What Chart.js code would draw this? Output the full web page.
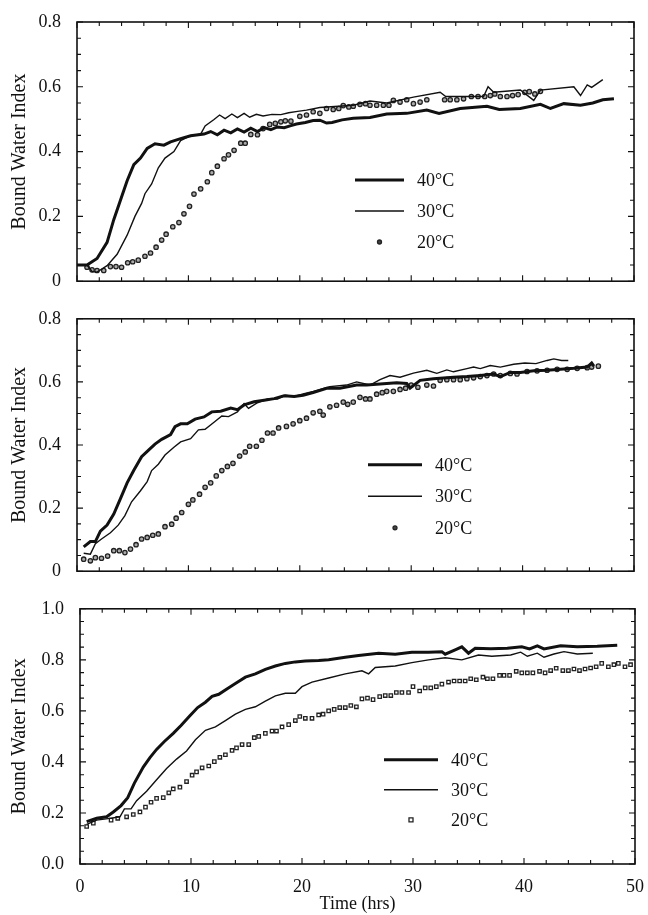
<!DOCTYPE html>
<html lang="en">
<head>
  <meta charset="UTF-8">
  <title>Bound Water Index vs Time</title>
  <script src="https://cdn.jsdelivr.net/npm/chart.js"></script>
  <style>
    body { margin: 0; background: #fff; }
    #wrap { position: relative; width: 648px; height: 915px; }
    #wrap canvas { position: absolute; left: 0; }
  </style>
</head>
<body>
  <div id="wrap">
    <canvas id="panel1" width="648" height="300" style="top:0"></canvas>
    <canvas id="panel2" width="648" height="290" style="top:300px"></canvas>
    <canvas id="panel3" width="648" height="325" style="top:590px"></canvas>
  </div>

  <script>
    // legend labels
    const tempLabels = ['40°C', '30°C', '20°C'];

    // ---- panel 1 (top) ----
    const p1Hours40 = [0, 0.9, 1.8, 2.7, 3.3, 3.9, 4.5, 5.1, 5.7, 6.3, 7.0, 7.8, 8.4, 9.3, 10.2, 11.4, 12.0, 12.6, 13.2, 13.8, 14.4, 15.0, 15.6, 16.2, 16.8, 17.4, 18.0, 18.6, 19.2, 19.7, 20.5, 21.2, 21.8, 22.4, 22.9, 23.8, 24.8, 26.3, 27.8, 29.6, 31.4, 32.5, 34.4, 36.8, 37.9, 39.8, 41.6, 42.5, 43.7, 45.2, 46.3, 47.2, 48.2];
    const p1Bwi40   = [0.05, 0.05, 0.07, 0.12, 0.19, 0.25, 0.31, 0.36, 0.38, 0.41, 0.424, 0.42, 0.43, 0.44, 0.449, 0.454, 0.462, 0.452, 0.466, 0.458, 0.47, 0.46, 0.472, 0.462, 0.474, 0.468, 0.476, 0.474, 0.48, 0.485, 0.49, 0.496, 0.497, 0.488, 0.49, 0.498, 0.503, 0.505, 0.516, 0.518, 0.528, 0.518, 0.533, 0.54, 0.53, 0.533, 0.546, 0.533, 0.548, 0.543, 0.55, 0.56, 0.563];

    const p1Hours30 = [0, 0.9, 1.35, 1.8, 2.7, 3.6, 4.5, 5.2, 5.8, 6.1, 6.7, 7.3, 7.9, 8.7, 9.3, 10.2, 11.1, 11.5, 12.3, 12.8, 13.3, 13.9, 14.4, 15.0, 15.5, 16.1, 16.7, 17.5, 18.3, 19.0, 19.8, 20.6, 21.8, 24.8, 26.3, 27.8, 30.2, 32.6, 33.1, 36.5, 36.9, 37.4, 39.8, 41.0, 41.6, 44.6, 45.2, 45.8, 46.2, 47.2];
    const p1Bwi30   = [0.05, 0.05, 0.03, 0.028, 0.048, 0.083, 0.142, 0.2, 0.24, 0.27, 0.30, 0.35, 0.38, 0.40, 0.434, 0.449, 0.454, 0.479, 0.499, 0.513, 0.502, 0.516, 0.505, 0.518, 0.506, 0.515, 0.51, 0.515, 0.514, 0.52, 0.524, 0.528, 0.536, 0.543, 0.556, 0.55, 0.568, 0.583, 0.57, 0.57, 0.6, 0.583, 0.59, 0.558, 0.59, 0.6, 0.573, 0.606, 0.598, 0.622];

    const p1Hours20 = [0.9, 1.35, 1.8, 2.4, 3.0, 3.5, 4.0, 4.55, 5.0, 5.5, 6.1, 6.6, 7.1, 7.6, 8.0, 8.6, 9.15, 9.6, 10.1, 10.5, 11.1, 11.7, 12.1, 12.6, 13.2, 13.6, 14.1, 14.7, 15.1, 15.6, 16.2, 16.7, 17.3, 17.8, 18.3, 18.7, 19.2, 20.0, 20.6, 21.2, 21.8, 22.4, 23.0, 23.5, 23.9, 24.4, 24.8, 25.4, 25.9, 26.3, 26.9, 27.5, 28.0, 28.4, 29.0, 29.6, 30.2, 30.8, 31.4, 33.0, 33.5, 34.1, 34.7, 35.4, 36.0, 36.6, 37.1, 37.5, 38.0, 38.6, 39.1, 39.6, 40.2, 40.6, 41.1, 41.6];
    const p1Bwi20   = [0.043, 0.035, 0.033, 0.033, 0.045, 0.045, 0.043, 0.057, 0.06, 0.065, 0.077, 0.087, 0.105, 0.127, 0.145, 0.168, 0.181, 0.208, 0.231, 0.269, 0.285, 0.307, 0.335, 0.355, 0.378, 0.39, 0.404, 0.426, 0.426, 0.453, 0.452, 0.471, 0.484, 0.487, 0.492, 0.495, 0.494, 0.509, 0.513, 0.523, 0.518, 0.533, 0.53, 0.533, 0.542, 0.538, 0.54, 0.546, 0.548, 0.543, 0.543, 0.543, 0.543, 0.558, 0.553, 0.56, 0.548, 0.553, 0.56, 0.56, 0.56, 0.56, 0.563, 0.57, 0.57, 0.57, 0.573, 0.578, 0.57, 0.57, 0.573, 0.576, 0.583, 0.585, 0.578, 0.586];

    // ---- panel 2 (middle) ----
    const p2Hours40 = [0.6, 1.2, 1.65, 2.1, 2.7, 3.3, 3.9, 4.5, 5.1, 5.8, 6.4, 7.0, 7.6, 8.4, 8.8, 9.3, 9.9, 10.6, 11.4, 12.1, 12.9, 13.8, 14.4, 15.0, 15.9, 16.8, 17.7, 18.6, 19.5, 20.3, 21.2, 22.4, 23.6, 25.1, 26.0, 27.2, 28.7, 29.6, 29.9, 30.8, 32.0, 33.8, 35.0, 36.2, 37.4, 38.0, 38.9, 39.8, 41.0, 42.2, 43.4, 44.6, 45.8, 46.2, 46.4];
    const p2Bwi40   = [0.077, 0.094, 0.094, 0.127, 0.146, 0.181, 0.23, 0.28, 0.32, 0.363, 0.383, 0.403, 0.418, 0.433, 0.458, 0.467, 0.467, 0.482, 0.489, 0.505, 0.507, 0.517, 0.512, 0.527, 0.537, 0.542, 0.547, 0.556, 0.554, 0.558, 0.566, 0.58, 0.58, 0.59, 0.59, 0.593, 0.597, 0.595, 0.58, 0.605, 0.61, 0.615, 0.617, 0.62, 0.625, 0.617, 0.63, 0.63, 0.635, 0.637, 0.64, 0.643, 0.647, 0.66, 0.65];

    const p2Hours30 = [0.6, 1.2, 1.65, 2.2, 3.0, 3.7, 4.3, 4.9, 5.7, 6.3, 6.7, 7.3, 7.9, 8.7, 9.3, 10.2, 10.9, 11.5, 12.3, 13.0, 13.6, 14.4, 15.0, 15.4, 16.2, 17.1, 18.0, 18.7, 19.5, 20.3, 21.2, 22.7, 24.2, 25.1, 26.3, 27.2, 28.1, 29.0, 30.2, 31.4, 32.3, 33.2, 33.8, 35.0, 35.6, 36.2, 37.1, 38.0, 39.2, 40.2, 41.2, 42.2, 42.8, 43.5, 44.1];
    const p2Bwi30   = [0.057, 0.054, 0.087, 0.102, 0.122, 0.146, 0.176, 0.22, 0.255, 0.284, 0.319, 0.339, 0.368, 0.393, 0.41, 0.42, 0.448, 0.45, 0.472, 0.492, 0.49, 0.505, 0.531, 0.516, 0.534, 0.546, 0.546, 0.558, 0.554, 0.562, 0.57, 0.585, 0.59, 0.6, 0.59, 0.607, 0.62, 0.615, 0.628, 0.637, 0.627, 0.638, 0.632, 0.642, 0.647, 0.642, 0.652, 0.647, 0.656, 0.66, 0.658, 0.668, 0.673, 0.668, 0.668];

    const p2Hours20 = [0.6, 1.2, 1.65, 2.2, 2.75, 3.3, 3.8, 4.3, 4.8, 5.3, 5.8, 6.3, 6.8, 7.3, 7.9, 8.5, 8.9, 9.4, 10.0, 10.4, 11.0, 11.5, 12.0, 12.5, 13.0, 13.5, 14.0, 14.6, 15.1, 15.5, 16.1, 16.6, 17.1, 17.6, 18.1, 18.8, 19.4, 20.0, 20.6, 21.2, 21.8, 22.1, 22.7, 23.3, 23.9, 24.3, 24.8, 25.4, 25.9, 26.3, 26.9, 27.4, 27.8, 28.4, 29.0, 29.5, 30.0, 30.6, 31.4, 32.0, 32.6, 33.2, 33.8, 34.4, 35.0, 35.6, 36.2, 36.8, 37.4, 38.0, 38.9, 39.5, 40.4, 41.3, 42.2, 43.1, 44.0, 44.9, 45.8, 46.2, 46.8];
    const p2Bwi20   = [0.038, 0.033, 0.043, 0.041, 0.048, 0.065, 0.065, 0.059, 0.07, 0.084, 0.102, 0.107, 0.114, 0.118, 0.141, 0.149, 0.168, 0.186, 0.212, 0.226, 0.244, 0.266, 0.28, 0.302, 0.319, 0.332, 0.342, 0.365, 0.378, 0.396, 0.396, 0.415, 0.438, 0.438, 0.454, 0.459, 0.467, 0.477, 0.485, 0.502, 0.507, 0.495, 0.521, 0.526, 0.536, 0.529, 0.536, 0.551, 0.546, 0.546, 0.561, 0.566, 0.57, 0.57, 0.576, 0.58, 0.59, 0.583, 0.59, 0.587, 0.605, 0.607, 0.607, 0.607, 0.61, 0.613, 0.617, 0.62, 0.625, 0.62, 0.627, 0.625, 0.633, 0.635, 0.637, 0.64, 0.64, 0.643, 0.645, 0.647, 0.65];

    // ---- panel 3 (bottom) ----
    const p3Hours40 = [0.6, 1.5, 2.4, 3.0, 3.7, 4.3, 4.9, 5.7, 6.3, 6.9, 7.6, 8.4, 9.1, 9.9, 10.6, 11.3, 11.9, 12.5, 13.3, 14.0, 14.9, 15.8, 16.7, 17.6, 18.5, 19.4, 20.3, 21.5, 22.4, 23.9, 25.1, 26.9, 28.4, 29.9, 31.4, 32.6, 32.9, 33.8, 34.4, 35.0, 35.6, 37.0, 38.5, 39.8, 40.5, 41.2, 41.8, 43.3, 44.8, 46.6, 48.4];
    const p3Bwi40   = [0.166, 0.179, 0.185, 0.204, 0.229, 0.26, 0.317, 0.38, 0.417, 0.449, 0.48, 0.512, 0.543, 0.581, 0.613, 0.634, 0.657, 0.665, 0.688, 0.707, 0.732, 0.745, 0.763, 0.776, 0.786, 0.792, 0.795, 0.797, 0.8, 0.81, 0.817, 0.826, 0.822, 0.83, 0.83, 0.832, 0.822, 0.839, 0.851, 0.826, 0.845, 0.843, 0.845, 0.851, 0.843, 0.855, 0.843, 0.855, 0.851, 0.853, 0.857];

    const p3Hours30 = [0.6, 1.5, 2.7, 3.6, 4.0, 4.6, 5.1, 6.0, 6.9, 7.8, 8.7, 9.6, 10.4, 11.3, 12.2, 13.1, 14.0, 14.9, 15.8, 16.7, 17.6, 18.5, 19.4, 20.0, 20.9, 22.4, 23.9, 25.4, 26.0, 26.6, 28.4, 29.9, 31.4, 32.9, 34.4, 35.9, 37.1, 38.8, 39.7, 40.3, 41.2, 41.8, 42.7, 43.6, 44.8, 46.2];
    const p3Bwi30   = [0.155, 0.172, 0.179, 0.185, 0.216, 0.216, 0.248, 0.285, 0.33, 0.374, 0.411, 0.443, 0.487, 0.524, 0.537, 0.562, 0.587, 0.606, 0.616, 0.638, 0.659, 0.669, 0.669, 0.695, 0.713, 0.729, 0.745, 0.757, 0.745, 0.77, 0.776, 0.789, 0.8, 0.808, 0.8, 0.819, 0.814, 0.819, 0.83, 0.814, 0.826, 0.81, 0.823, 0.832, 0.823, 0.826];

    const p3Hours20 = [0.6, 1.2, 2.8, 3.4, 4.2, 4.8, 5.4, 5.9, 6.4, 6.9, 7.5, 8.0, 8.4, 9.0, 9.6, 10.1, 10.5, 11.0, 11.6, 12.1, 12.6, 13.1, 13.7, 14.1, 14.6, 15.2, 15.7, 16.1, 16.7, 17.3, 17.7, 18.2, 18.8, 19.4, 19.8, 20.3, 20.9, 21.5, 21.9, 22.4, 22.9, 23.4, 23.9, 24.4, 24.9, 25.4, 25.9, 26.4, 27.0, 27.5, 28.0, 28.5, 29.0, 29.6, 30.0, 30.6, 31.1, 31.6, 32.1, 32.6, 33.2, 33.7, 34.2, 34.7, 35.2, 35.7, 36.3, 36.7, 37.2, 37.8, 38.2, 38.7, 39.3, 39.8, 40.3, 40.8, 41.4, 41.9, 42.4, 42.9, 43.5, 44.0, 44.5, 45.0, 45.5, 46.0, 46.5, 47.0, 47.6, 48.1, 48.5, 49.1, 49.6];
    const p3Bwi20   = [0.147, 0.16, 0.172, 0.179, 0.185, 0.194, 0.204, 0.223, 0.242, 0.257, 0.26, 0.279, 0.294, 0.301, 0.323, 0.348, 0.361, 0.377, 0.384, 0.401, 0.418, 0.428, 0.445, 0.455, 0.468, 0.468, 0.495, 0.5, 0.512, 0.521, 0.521, 0.537, 0.546, 0.562, 0.578, 0.571, 0.571, 0.584, 0.587, 0.6, 0.606, 0.613, 0.613, 0.621, 0.616, 0.647, 0.65, 0.644, 0.656, 0.66, 0.66, 0.672, 0.672, 0.672, 0.695, 0.678, 0.69, 0.69, 0.695, 0.705, 0.713, 0.717, 0.717, 0.717, 0.726, 0.722, 0.732, 0.726, 0.726, 0.739, 0.739, 0.739, 0.755, 0.749, 0.749, 0.749, 0.755, 0.749, 0.758, 0.767, 0.758, 0.758, 0.764, 0.758, 0.764, 0.768, 0.773, 0.786, 0.773, 0.781, 0.786, 0.773, 0.781];

    // ---- styling ----
    const ink = '#111';
    const serif = "'Liberation Serif', 'Times New Roman', serif";
    Chart.defaults.font.family = serif;
    Chart.defaults.color = ink;

    function pts(xs, ys) {
      return xs.map((x, i) => ({ x: x, y: ys[i] }));
    }

    function seriesSet(h40, b40, h30, b30, h20, b20, marker) {
      const isRect = marker === 'rect';
      return [
        { label: tempLabels[0], data: pts(h40, b40), borderColor: ink, borderWidth: 3, pointRadius: 0, tension: 0 },
        { label: tempLabels[1], data: pts(h30, b30), borderColor: ink, borderWidth: 1.4, pointRadius: 0, tension: 0 },
        { label: tempLabels[2], data: pts(h20, b20), showLine: false, pointStyle: marker,
          pointRadius: isRect ? 2.4 : 2.2, borderColor: '#222',
          backgroundColor: isRect ? '#fff' : '#aaa', pointBorderWidth: 1.3 }
      ];
    }

    // frame with inward ticks on every side + legend inside the plot
    const framePlugin = {
      id: 'frame',
      afterDatasetsDraw(chart, args, opts) {
        const ctx = chart.ctx;
        const a = chart.chartArea;
        const xs = chart.scales.x, ys = chart.scales.y;
        ctx.save();
        ctx.strokeStyle = ink;
        ctx.lineWidth = 1.6;
        ctx.strokeRect(a.left, a.top, a.right - a.left, a.bottom - a.top);

        ctx.lineWidth = 1.1;
        ctx.beginPath();
        for (let t = 0; t <= 50; t += 2) {
          const px = xs.getPixelForValue(t);
          const len = t % 10 === 0 ? 6 : 4;
          ctx.moveTo(px, a.bottom); ctx.lineTo(px, a.bottom - len);
          ctx.moveTo(px, a.top); ctx.lineTo(px, a.top + len);
        }
        const n = Math.round(ys.max / 0.05);
        for (let i = 0; i <= n; i++) {
          const py = ys.getPixelForValue(i * 0.05);
          const len = i % 4 === 0 ? 6 : 4;
          ctx.moveTo(a.left, py); ctx.lineTo(a.left + len, py);
          ctx.moveTo(a.right, py); ctx.lineTo(a.right - len, py);
        }
        ctx.stroke();

        // legend
        const lg = opts.legend;
        let y = a.top + lg.top;
        const x0 = a.left + lg.left;
        ctx.font = '18px ' + serif;
        ctx.fillStyle = ink;
        ctx.textBaseline = 'middle';
        chart.data.datasets.forEach(ds => {
          if (ds.showLine === false) {
            const cx = x0 + lg.len / 2;
            ctx.lineWidth = 1.3;
            ctx.strokeStyle = '#222';
            ctx.fillStyle = ds.pointStyle === 'rect' ? '#fff' : '#444';
            ctx.beginPath();
            if (ds.pointStyle === 'rect') {
              ctx.rect(cx - 2, y - 2, 4, 4);
            } else {
              ctx.arc(cx, y, 2, 0, Math.PI * 2);
            }
            ctx.fill();
            ctx.stroke();
            ctx.fillStyle = ink;
          } else {
            ctx.lineWidth = ds.borderWidth;
            ctx.strokeStyle = ink;
            ctx.beginPath();
            ctx.moveTo(x0, y);
            ctx.lineTo(x0 + lg.len, y);
            ctx.stroke();
          }
          ctx.fillText(ds.label, x0 + lg.len + 13, y + 1);
          y += lg.gap;
        });
        ctx.restore();
      }
    };

    function makePanel(id, datasets, cfg) {
      return new Chart(document.getElementById(id), {
        type: 'line',
        data: { datasets: datasets },
        plugins: [framePlugin],
        options: {
          responsive: false,
          animation: false,
          events: [],
          layout: { padding: cfg.padding },
          plugins: {
            legend: { display: false },
            tooltip: { enabled: false },
            frame: { legend: cfg.legend }
          },
          scales: {
            x: {
              type: 'linear', min: 0, max: 50,
              display: cfg.showX,
              grid: { display: false },
              border: { display: false },
              ticks: { stepSize: 10, padding: 4, font: { size: 18 }, maxRotation: 0 },
              title: { display: cfg.showX, text: 'Time (hrs)', font: { size: 18 }, padding: { top: 0, bottom: 0 } },
              afterFit: s => { if (cfg.showX) s.height = cfg.xHeight; }
            },
            y: {
              min: 0, max: cfg.yMax,
              grid: { display: false },
              border: { display: false },
              ticks: {
                stepSize: 0.2, padding: 8, font: { size: 18 },
                callback: v => (v === 0 && !cfg.zeroDecimal) ? '0' : v.toFixed(1)
              },
              title: { display: true, text: 'Bound Water Index', font: { size: 20 }, padding: { top: 8, bottom: 0 } },
              afterFit: s => { s.width = cfg.yWidth; }
            }
          }
        }
      });
    }

    makePanel('panel1', seriesSet(p1Hours40, p1Bwi40, p1Hours30, p1Bwi30, p1Hours20, p1Bwi20, 'circle'), {
      padding: { top: 22, right: 14, bottom: 9, left: 0 },
      yWidth: 77, yMax: 0.8, showX: false, zeroDecimal: false,
      legend: { left: 278, top: 158, len: 49, gap: 31 }
    });

    makePanel('panel2', seriesSet(p2Hours40, p2Bwi40, p2Hours30, p2Bwi30, p2Hours20, p2Bwi20, 'circle'), {
      padding: { top: 11, right: 14, bottom: 9, left: 0 },
      yWidth: 77, yMax: 0.8, showX: false, zeroDecimal: false,
      legend: { left: 291, top: 146, len: 54, gap: 31.5 }
    });

    makePanel('panel3', seriesSet(p3Hours40, p3Bwi40, p3Hours30, p3Bwi30, p3Hours20, p3Bwi20, 'rect'), {
      padding: { top: 9, right: 12, bottom: 0, left: 0 },
      yWidth: 80, yMax: 1.0, showX: true, xHeight: 51, zeroDecimal: true,
      legend: { left: 304, top: 151, len: 54, gap: 30 }
    });
  </script>
</body>
</html>
